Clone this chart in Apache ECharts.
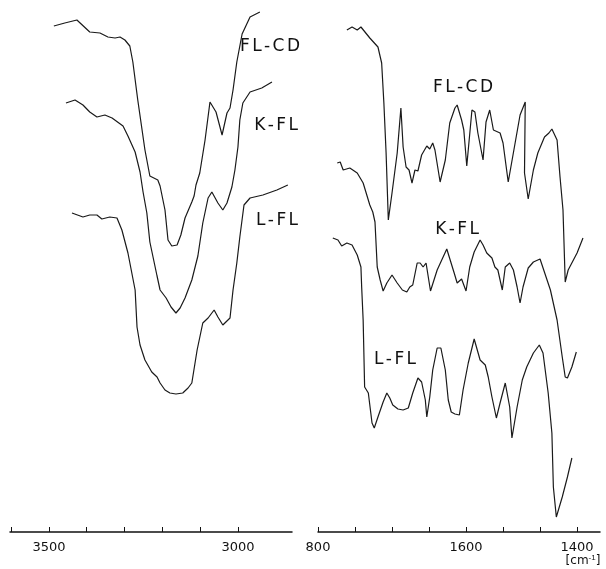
<!DOCTYPE html>
<html>
<head>
<meta charset="utf-8">
<script src="https://cdn.jsdelivr.net/npm/echarts@6/dist/echarts.min.js"></script>
<style>
  html, body { margin: 0; padding: 0; background: #fff; }
  #chart { width: 606px; height: 569px; }
</style>
</head>
<body>
<div id="chart"></div>
<script>
// wavenumber (cm-1) / transmittance (arbitrary, offset per trace)

// left panel, 3600 - 2850 cm-1
var leftFLCD = [
  [3487,506],[3458,509],[3426,512],[3392,500],[3365,499],[3344,495],[3325,494],[3312,495],
  [3299,492],[3286,486],[3278,470],[3265,432],[3246,382],[3233,356],[3212,352],[3206,346],
  [3193,322],[3185,292],[3175,286],[3161,287],[3151,297],[3140,314],[3122,330],[3116,336],
  [3111,347],[3101,359],[3087,392],[3074,430],[3069,432],[3058,420],[3042,397],[3029,419],
  [3021,424],[3013,442],[3003,470],[2989,498],[2968,515],[2942,520]
];
var leftKFL = [
  [3455,429],[3431,432],[3410,427],[3392,420],[3373,415],[3352,417],[3333,414],[3304,406],
  [3291,396],[3272,380],[3259,360],[3251,340],[3241,319],[3233,290],[3214,256],[3206,242],
  [3190,234],[3177,225],[3164,219],[3153,224],[3140,234],[3122,252],[3106,276],[3093,309],
  [3079,334],[3069,340],[3053,329],[3040,322],[3029,329],[3016,345],[3008,362],[3000,385],
  [2995,412],[2987,429],[2968,440],[2937,444],[2910,450]
];
var leftLFL = [
  [3439,319],[3410,315],[3392,317],[3373,317],[3360,313],[3339,315],[3320,314],[3307,302],
  [3291,279],[3272,242],[3267,205],[3259,187],[3246,172],[3228,160],[3214,155],[3206,149],
  [3193,142],[3180,139],[3164,138],[3146,139],[3132,144],[3122,149],[3108,182],[3093,209],
  [3079,214],[3063,222],[3053,215],[3040,207],[3021,214],[3013,242],[3003,269],[2995,295],
  [2984,327],[2968,334],[2934,337],[2897,342],[2868,347]
];

// right panel, 1800 - 1420 cm-1
var rightFLCD = [
  [1761,502],[1754,505],[1747,502],[1742,505],[1730,494],[1719,485],[1714,469],[1711,429],
  [1708,379],[1705,312],[1700,339],[1693,379],[1688,424],[1685,385],[1681,365],[1677,362],
  [1673,349],[1669,362],[1665,361],[1660,377],[1653,386],[1649,383],[1645,389],[1642,382],
  [1635,350],[1628,372],[1622,409],[1615,424],[1612,427],[1606,412],[1603,402],[1599,366],
  [1592,422],[1588,420],[1584,399],[1577,372],[1573,410],[1568,422],[1563,402],[1554,399],
  [1550,389],[1543,350],[1527,417],[1520,430],[1521,359],[1516,333],[1509,362],[1503,379],
  [1494,395],[1488,399],[1484,403],[1477,392],[1473,355],[1469,322],[1466,250],[1462,262],
  [1450,279],[1442,294]
];
var rightKFL = [
  [1774,369],[1770,370],[1766,362],[1757,364],[1747,359],[1739,349],[1730,327],[1726,320],
  [1723,310],[1720,265],[1716,252],[1712,241],[1707,249],[1700,257],[1693,249],[1686,242],
  [1680,240],[1676,245],[1672,247],[1666,269],[1662,269],[1658,265],[1654,269],[1648,241],
  [1639,262],[1626,283],[1616,259],[1612,249],[1606,253],[1600,241],[1595,265],[1589,280],
  [1581,292],[1577,287],[1572,279],[1565,274],[1561,265],[1557,262],[1551,242],[1547,265],
  [1541,269],[1536,262],[1531,245],[1527,229],[1523,245],[1516,264],[1509,270],[1500,273],
  [1486,242],[1477,212],[1470,175],[1466,155],[1463,154],[1457,165],[1451,180]
];
var rightLFL = [
  [1780,294],[1773,292],[1768,286],[1761,289],[1754,287],[1747,277],[1742,265],[1741,245],
  [1739,212],[1737,145],[1732,139],[1727,109],[1724,104],[1719,115],[1712,130],[1707,139],
  [1703,134],[1699,127],[1692,123],[1685,122],[1678,124],[1672,139],[1665,154],[1660,150],
  [1655,132],[1653,115],[1649,135],[1645,162],[1639,184],[1634,184],[1628,162],[1624,132],
  [1620,120],[1615,118],[1609,117],[1604,142],[1597,169],[1589,193],[1581,172],[1574,167],
  [1570,155],[1565,135],[1559,114],[1554,129],[1547,149],[1545,149],[1541,125],[1538,94],
  [1531,125],[1524,152],[1518,165],[1509,179],[1501,187],[1496,179],[1489,139],[1484,99],
  [1482,45],[1478,15],[1470,35],[1463,55],[1457,74]
];

var leftTicks = [3600, 3500, 3400, 3300, 3200, 3100, 3000];
var leftLabels = [3500, 3000];
var rightTicks = [1800, 1750, 1700, 1650, 1600, 1550, 1500, 1450];
var rightLabelAt = [1800, 1600, 1450];
var rightLabelText = ['800', '1600', '1400'];

var chart = echarts.init(document.getElementById('chart'));

function xAx(idx, min, max, ticks, labels, fmt) {
  return {
    type: 'value', gridIndex: idx, inverse: true, min: min, max: max,
    axisLine: { show: true, lineStyle: { color: '#111', width: 1.5 } },
    axisTick: { show: true, inside: true, length: 5, customValues: ticks, lineStyle: { color: '#111', width: 1 } },
    axisLabel: { show: true, customValues: labels, formatter: fmt, margin: 9,
                 fontFamily: 'DejaVu Sans', fontSize: 13, color: '#111' },
    splitLine: { show: false }
  };
}
function yAx(idx) {
  return { type: 'value', gridIndex: idx, min: 0, max: 532, show: false };
}
function trace(data, idx) {
  return {
    type: 'line', data: data, xAxisIndex: idx, yAxisIndex: idx,
    showSymbol: false, smooth: false, silent: true,
    lineStyle: { color: '#1a1a1a', width: 1.2 }
  };
}
// spaced-out lettering like the original figure: one rich token per character
function lbl(text, x, y) {
  var s = text.split('').map(function (c) { return '{c|' + c + '}'; }).join('');
  return { type: 'text', x: x, y: y,
    style: { text: s, fontFamily: 'DejaVu Sans', fontSize: 17, fill: '#111',
             align: 'center', verticalAlign: 'middle',
             rich: { c: { fontFamily: 'DejaVu Sans', fontSize: 17, color: '#111', padding: [0, 1.2, 0, 1.2] } } } };
}

var option = {
  animation: false,
  backgroundColor: '#fff',
  grid: [
    { left: 10, top: 0, width: 282, height: 532 },
    { left: 318, top: 0, width: 282, height: 532 }
  ],
  xAxis: [
    xAx(0, 2857, 3603, leftTicks, leftLabels, function (v) { return String(v); }),
    xAx(1, 1419, 1800, rightTicks, rightLabelAt, function (v) {
      return rightLabelText[rightLabelAt.indexOf(v)];
    })
  ],
  yAxis: [yAx(0), yAx(1)],
  series: [
    trace(leftFLCD, 0), trace(leftKFL, 0), trace(leftLFL, 0),
    trace(rightFLCD, 1), trace(rightKFL, 1), trace(rightLFL, 1)
  ],
  graphic: [
    lbl('FL-CD', 270, 47), lbl('K-FL', 276, 126), lbl('L-FL', 277, 221),
    lbl('FL-CD', 463, 88), lbl('K-FL', 457, 230), lbl('L-FL', 395, 360),
    { type: 'text', x: 583, y: 561,
      style: { text: '[cm{s|-1}]', fontFamily: 'DejaVu Sans', fontSize: 12, fill: '#111',
               align: 'center', verticalAlign: 'middle',
               rich: { s: { fontSize: 8, verticalAlign: 'top', padding: [0, 0, 6, 0] } } } }
  ]
};
chart.setOption(option);
</script>
</body>
</html>
